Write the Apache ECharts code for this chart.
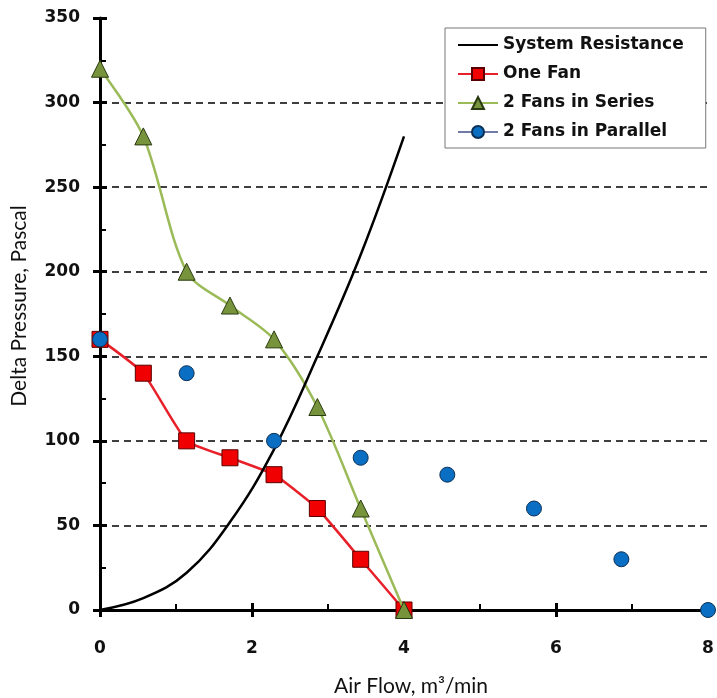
<!DOCTYPE html>
<html>
<head>
<meta charset="utf-8">
<script src="https://cdn.jsdelivr.net/npm/echarts@6/dist/echarts.min.js"></script>
<style>
  html, body { margin: 0; padding: 0; background: #fff; }
  #chart { width: 717px; height: 698px; }
</style>
</head>
<body>
<div id="chart"></div>
<script>
  /** Data */
  var flowOne = [0, 0.57, 1.14, 1.71, 2.29, 2.86, 3.43, 4.0];
  var flowParallel = [0, 1.14, 2.29, 3.43, 4.57, 5.71, 6.86, 8.0];
  var resistance = [0, 7, 22, 52, 95, 150, 210, 280];
  var oneFan = [160, 140, 100, 90, 80, 60, 30, 0];
  var fansSeries = [320, 280, 200, 180, 160, 120, 60, 0];
  var fansParallel = [160, 140, 100, 90, 80, 60, 30, 0];
  var names = ['System Resistance', 'One Fan', '2 Fans in Series', '2 Fans in Parallel'];

  function pairs(xs, ys) {
    return xs.map(function(x, i) { return [x, ys[i]]; });
  }

  var labelFont = { fontFamily: 'DejaVu Sans', fontWeight: 'bold', fontSize: 17, color: '#111' };
  // plain line icon for the legend (tiny corner triangles only set the box)
  var lineIcon = 'path://M0,0 L0.01,0 L0,0.01 Z M0,6.6 L40,6.6 L40,8.6 L0,8.6 Z M40,15 L39.99,15 L40,14.99 Z';

  var option = {
    animation: false,
    grid: { left: 100, right: 9, top: 18, bottom: 88, containLabel: false, outerBoundsMode: 'none' },
    legend: {
      orient: 'vertical',
      left: 445,
      top: 28,
      padding: [7, 22, 6, 12],
      itemGap: 9,
      itemWidth: 40,
      itemHeight: 15,
      backgroundColor: '#fff',
      borderColor: '#777',
      borderWidth: 1,
      textStyle: { fontFamily: 'DejaVu Sans', fontWeight: 'bold', fontSize: 17, lineHeight: 20, color: '#111' },
      data: [
        { name: names[0], icon: lineIcon },
        { name: names[1] },
        { name: names[2] },
        { name: names[3], lineStyle: { width: 2, color: '#6f7aa6', opacity: 1 } }
      ]
    },
    xAxis: [{
      type: 'value', min: 0, max: 8, interval: 2,
      name: 'Air Flow, m³/min',
      nameLocation: 'middle',
      nameGap: 66,
      nameTextStyle: { fontFamily: 'Lato', fontSize: 21, color: '#111', padding: [0, 0, 0, 14] },
      axisLine: { lineStyle: { color: '#000', width: 3 } },
      axisTick: { show: true, length: 7, lineStyle: { color: '#000', width: 3 } },
      axisLabel: Object.assign({ margin: 30 }, labelFont),
      splitLine: { show: false }
    }, {
      type: 'value', min: 0, max: 8, interval: 2, position: 'bottom',
      axisLine: { show: false },
      axisTick: { show: true, inside: true, length: 7, lineStyle: { color: '#000', width: 3 } },
      minorTick: { show: true, splitNumber: 2, length: 6, lineStyle: { color: '#000', width: 2 } },
      axisLabel: { show: false },
      splitLine: { show: false }
    }],
    yAxis: [{
      type: 'value', min: 0, max: 350, interval: 50,
      name: 'Delta Pressure, Pascal',
      nameLocation: 'middle',
      nameGap: 70,
      nameTextStyle: { fontFamily: 'Lato', fontSize: 21, color: '#111', padding: [0, 0, 0, 16] },
      axisLine: { show: true, lineStyle: { color: '#000', width: 3 } },
      axisTick: { show: true, length: 7, lineStyle: { color: '#000', width: 3 } },
      axisLabel: Object.assign({ margin: 20 }, labelFont),
      splitLine: {
        show: true, showMinLine: false, showMaxLine: false,
        lineStyle: { color: '#000', width: 1.6, type: [7, 5] }
      }
    }, {
      type: 'value', min: 0, max: 350, interval: 50, position: 'left', offset: 0,
      axisLine: { show: false },
      axisTick: { show: true, inside: true, length: 7, lineStyle: { color: '#000', width: 3 } },
      minorTick: { show: true, splitNumber: 2, length: 6, lineStyle: { color: '#000', width: 2 } },
      axisLabel: { show: false },
      splitLine: { show: false }
    }],
    series: [{
      name: names[1],
      type: 'line',
      data: pairs(flowOne, oneFan),
      smooth: 0.15,
      symbol: 'rect',
      symbolSize: 16,
      lineStyle: { color: '#e8202a', width: 2.5 },
      itemStyle: { color: '#f00000', borderColor: '#5a0000', borderWidth: 1 },
      z: 3
    }, {
      name: names[2],
      type: 'line',
      data: pairs(flowOne, fansSeries),
      smooth: 0.3,
      symbol: 'triangle',
      symbolSize: 17,
      lineStyle: { color: '#9bbb59', width: 2.5 },
      itemStyle: { color: '#77933c', borderColor: '#2a3a10', borderWidth: 1 },
      z: 4
    }, {
      name: names[0],
      type: 'line',
      data: pairs(flowOne, resistance),
      smooth: 0.4,
      symbol: 'none',
      lineStyle: { color: '#000', width: 2.5 },
      itemStyle: { color: '#000' },
      z: 5
    }, {
      name: names[3],
      type: 'line',
      data: pairs(flowParallel, fansParallel),
      symbol: 'circle',
      symbolSize: 15,
      lineStyle: { width: 0, opacity: 0 },
      itemStyle: { color: '#0a6fc2', borderColor: '#0b2f55', borderWidth: 1 },
      z: 6
    }]
  };

  echarts.init(document.getElementById('chart')).setOption(option);
</script>
</body>
</html>
